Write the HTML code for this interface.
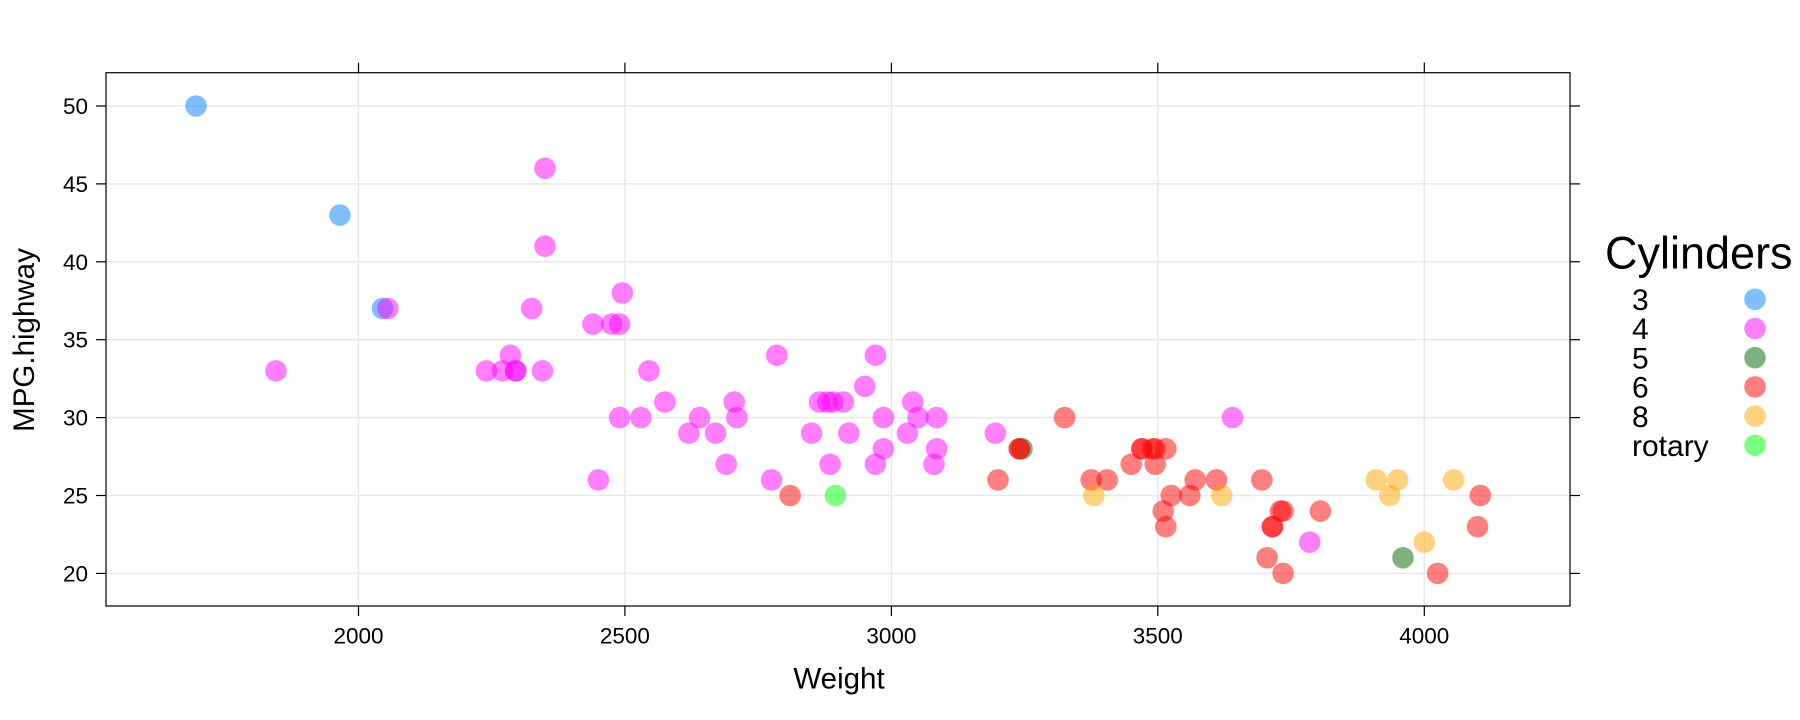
<!DOCTYPE html>
<html>
<head>
<meta charset="utf-8">
<style>
  html,body{margin:0;padding:0;background:#fff;}
  svg{display:block;}
  text{font-family:"Liberation Sans", Arial, sans-serif;fill:#000;}
</style>
</head>
<body>
<svg width="1800" height="720" viewBox="0 0 1800 720" xmlns="http://www.w3.org/2000/svg">
  <rect x="0" y="0" width="1800" height="720" fill="#fff"/>
  <g stroke="#e8e8e8" stroke-width="1.5">
    <line x1="358.5" y1="72.7" x2="358.5" y2="606"/>
    <line x1="624.9" y1="72.7" x2="624.9" y2="606"/>
    <line x1="891.4" y1="72.7" x2="891.4" y2="606"/>
    <line x1="1157.8" y1="72.7" x2="1157.8" y2="606"/>
    <line x1="1424.3" y1="72.7" x2="1424.3" y2="606"/>
    <line x1="106" y1="106" x2="1570" y2="106"/>
    <line x1="106" y1="183.9" x2="1570" y2="183.9"/>
    <line x1="106" y1="261.8" x2="1570" y2="261.8"/>
    <line x1="106" y1="339.7" x2="1570" y2="339.7"/>
    <line x1="106" y1="417.6" x2="1570" y2="417.6"/>
    <line x1="106" y1="495.5" x2="1570" y2="495.5"/>
    <line x1="106" y1="573.4" x2="1570" y2="573.4"/>
  </g>

  <g fill="#0080ff" fill-opacity="0.5">
    <circle cx="196.0" cy="106" r="10.8"/>
    <circle cx="339.9" cy="215.1" r="10.8"/>
    <circle cx="382.5" cy="308.5" r="10.8"/>
  </g>
  <g fill="#ff00ff" fill-opacity="0.5">
    <circle cx="275.9" cy="370.9" r="10.8"/>
    <circle cx="387.8" cy="308.5" r="10.8"/>
    <circle cx="486.4" cy="370.9" r="10.8"/>
    <circle cx="502.4" cy="370.9" r="10.8"/>
    <circle cx="510.4" cy="355.3" r="10.8"/>
    <circle cx="515.7" cy="370.9" r="10.8"/>
    <circle cx="515.7" cy="370.9" r="10.8"/>
    <circle cx="542.4" cy="370.9" r="10.8"/>
    <circle cx="545.0" cy="168.3" r="10.8"/>
    <circle cx="545.0" cy="246.2" r="10.8"/>
    <circle cx="531.7" cy="308.5" r="10.8"/>
    <circle cx="593.0" cy="324.1" r="10.8"/>
    <circle cx="611.6" cy="324.1" r="10.8"/>
    <circle cx="619.6" cy="324.1" r="10.8"/>
    <circle cx="622.3" cy="293.0" r="10.8"/>
    <circle cx="598.3" cy="479.9" r="10.8"/>
    <circle cx="619.6" cy="417.6" r="10.8"/>
    <circle cx="640.9" cy="417.6" r="10.8"/>
    <circle cx="648.9" cy="370.9" r="10.8"/>
    <circle cx="664.9" cy="402.0" r="10.8"/>
    <circle cx="688.9" cy="433.2" r="10.8"/>
    <circle cx="699.6" cy="417.6" r="10.8"/>
    <circle cx="715.5" cy="433.2" r="10.8"/>
    <circle cx="726.2" cy="464.3" r="10.8"/>
    <circle cx="734.2" cy="402.0" r="10.8"/>
    <circle cx="736.9" cy="417.6" r="10.8"/>
    <circle cx="771.5" cy="479.9" r="10.8"/>
    <circle cx="776.8" cy="355.3" r="10.8"/>
    <circle cx="811.5" cy="433.2" r="10.8"/>
    <circle cx="819.5" cy="402.0" r="10.8"/>
    <circle cx="827.5" cy="402.0" r="10.8"/>
    <circle cx="832.8" cy="402.0" r="10.8"/>
    <circle cx="843.4" cy="402.0" r="10.8"/>
    <circle cx="830.1" cy="464.3" r="10.8"/>
    <circle cx="848.8" cy="433.2" r="10.8"/>
    <circle cx="864.8" cy="386.4" r="10.8"/>
    <circle cx="875.4" cy="355.3" r="10.8"/>
    <circle cx="875.4" cy="464.3" r="10.8"/>
    <circle cx="883.4" cy="417.6" r="10.8"/>
    <circle cx="883.4" cy="448.8" r="10.8"/>
    <circle cx="907.4" cy="433.2" r="10.8"/>
    <circle cx="912.7" cy="402.0" r="10.8"/>
    <circle cx="918.0" cy="417.6" r="10.8"/>
    <circle cx="934.0" cy="464.3" r="10.8"/>
    <circle cx="936.7" cy="417.6" r="10.8"/>
    <circle cx="936.7" cy="448.8" r="10.8"/>
    <circle cx="995.3" cy="433.2" r="10.8"/>
    <circle cx="1232.5" cy="417.6" r="10.8"/>
    <circle cx="1309.7" cy="542.2" r="10.8"/>
  </g>
  <g fill="#006400" fill-opacity="0.5">
    <circle cx="1022.0" cy="448.8" r="10.8"/>
    <circle cx="1403.0" cy="557.8" r="10.8"/>
  </g>
  <g fill="#ff0000" fill-opacity="0.5">
    <circle cx="790.1" cy="495.5" r="10.8"/>
    <circle cx="998.0" cy="479.9" r="10.8"/>
    <circle cx="1019.3" cy="448.8" r="10.8"/>
    <circle cx="1019.3" cy="448.8" r="10.8"/>
    <circle cx="1064.6" cy="417.6" r="10.8"/>
    <circle cx="1091.2" cy="479.9" r="10.8"/>
    <circle cx="1107.2" cy="479.9" r="10.8"/>
    <circle cx="1131.2" cy="464.3" r="10.8"/>
    <circle cx="1141.9" cy="448.8" r="10.8"/>
    <circle cx="1141.9" cy="448.8" r="10.8"/>
    <circle cx="1152.5" cy="448.8" r="10.8"/>
    <circle cx="1155.2" cy="448.8" r="10.8"/>
    <circle cx="1155.2" cy="464.3" r="10.8"/>
    <circle cx="1165.8" cy="448.8" r="10.8"/>
    <circle cx="1163.2" cy="511.1" r="10.8"/>
    <circle cx="1165.8" cy="526.7" r="10.8"/>
    <circle cx="1171.2" cy="495.5" r="10.8"/>
    <circle cx="1189.8" cy="495.5" r="10.8"/>
    <circle cx="1195.2" cy="479.9" r="10.8"/>
    <circle cx="1216.5" cy="479.9" r="10.8"/>
    <circle cx="1261.8" cy="479.9" r="10.8"/>
    <circle cx="1267.1" cy="557.8" r="10.8"/>
    <circle cx="1272.4" cy="526.7" r="10.8"/>
    <circle cx="1272.4" cy="526.7" r="10.8"/>
    <circle cx="1280.4" cy="511.1" r="10.8"/>
    <circle cx="1283.1" cy="511.1" r="10.8"/>
    <circle cx="1283.1" cy="573.4" r="10.8"/>
    <circle cx="1320.4" cy="511.1" r="10.8"/>
    <circle cx="1437.6" cy="573.4" r="10.8"/>
    <circle cx="1477.6" cy="526.7" r="10.8"/>
    <circle cx="1480.3" cy="495.5" r="10.8"/>
  </g>
  <g fill="#ffa500" fill-opacity="0.5">
    <circle cx="1093.9" cy="495.5" r="10.8"/>
    <circle cx="1221.8" cy="495.5" r="10.8"/>
    <circle cx="1376.3" cy="479.9" r="10.8"/>
    <circle cx="1389.7" cy="495.5" r="10.8"/>
    <circle cx="1397.7" cy="479.9" r="10.8"/>
    <circle cx="1424.3" cy="542.2" r="10.8"/>
    <circle cx="1453.6" cy="479.9" r="10.8"/>
  </g>
  <g fill="#00ff00" fill-opacity="0.5">
    <circle cx="835.4" cy="495.5" r="10.8"/>
  </g>

  <rect x="106" y="72.7" width="1464" height="533.3" fill="none" stroke="#000" stroke-width="1.2"/>

  <g stroke="#000" stroke-width="1.2">
    <line x1="96" y1="106" x2="106" y2="106"/>
    <line x1="96" y1="183.9" x2="106" y2="183.9"/>
    <line x1="96" y1="261.8" x2="106" y2="261.8"/>
    <line x1="96" y1="339.7" x2="106" y2="339.7"/>
    <line x1="96" y1="417.6" x2="106" y2="417.6"/>
    <line x1="96" y1="495.5" x2="106" y2="495.5"/>
    <line x1="96" y1="573.4" x2="106" y2="573.4"/>
    <line x1="1570" y1="106" x2="1580" y2="106"/>
    <line x1="1570" y1="183.9" x2="1580" y2="183.9"/>
    <line x1="1570" y1="261.8" x2="1580" y2="261.8"/>
    <line x1="1570" y1="339.7" x2="1580" y2="339.7"/>
    <line x1="1570" y1="417.6" x2="1580" y2="417.6"/>
    <line x1="1570" y1="495.5" x2="1580" y2="495.5"/>
    <line x1="1570" y1="573.4" x2="1580" y2="573.4"/>
    <line x1="358.5" y1="606" x2="358.5" y2="616"/>
    <line x1="624.9" y1="606" x2="624.9" y2="616"/>
    <line x1="891.4" y1="606" x2="891.4" y2="616"/>
    <line x1="1157.8" y1="606" x2="1157.8" y2="616"/>
    <line x1="1424.3" y1="606" x2="1424.3" y2="616"/>
    <line x1="358.5" y1="62.7" x2="358.5" y2="72.7"/>
    <line x1="624.9" y1="62.7" x2="624.9" y2="72.7"/>
    <line x1="891.4" y1="62.7" x2="891.4" y2="72.7"/>
    <line x1="1157.8" y1="62.7" x2="1157.8" y2="72.7"/>
    <line x1="1424.3" y1="62.7" x2="1424.3" y2="72.7"/>
  </g>

  <g font-size="22.5" text-anchor="end">
    <text x="88" y="114">50</text>
    <text x="88" y="191.9">45</text>
    <text x="88" y="269.8">40</text>
    <text x="88" y="347.7">35</text>
    <text x="88" y="425.6">30</text>
    <text x="88" y="503.5">25</text>
    <text x="88" y="581.4">20</text>
  </g>
  <g font-size="22.5" text-anchor="middle">
    <text x="358.5" y="643.3">2000</text>
    <text x="624.9" y="643.3">2500</text>
    <text x="891.4" y="643.3">3000</text>
    <text x="1157.8" y="643.3">3500</text>
    <text x="1424.3" y="643.3">4000</text>
  </g>

  <text x="839" y="688.5" font-size="29.5" text-anchor="middle">Weight</text>
  <text transform="translate(34,340) rotate(-90)" x="0" y="0" font-size="29.5" text-anchor="middle">MPG.highway</text>

  <text x="1605" y="268.3" font-size="45">Cylinders</text>
  <g font-size="30">
    <text x="1632" y="310">3</text>
    <text x="1632" y="339.2">4</text>
    <text x="1632" y="368.4">5</text>
    <text x="1632" y="397.6">6</text>
    <text x="1632" y="426.8">8</text>
    <text x="1632" y="456">rotary</text>
  </g>
  <circle cx="1755" cy="299.3" r="10.8" fill="#0080ff" fill-opacity="0.5"/>
  <circle cx="1755" cy="328.5" r="10.8" fill="#ff00ff" fill-opacity="0.5"/>
  <circle cx="1755" cy="357.7" r="10.8" fill="#006400" fill-opacity="0.5"/>
  <circle cx="1755" cy="386.9" r="10.8" fill="#ff0000" fill-opacity="0.5"/>
  <circle cx="1755" cy="416.1" r="10.8" fill="#ffa500" fill-opacity="0.5"/>
  <circle cx="1755" cy="445.3" r="10.8" fill="#00ff00" fill-opacity="0.5"/>
</svg>
</body>
</html>
